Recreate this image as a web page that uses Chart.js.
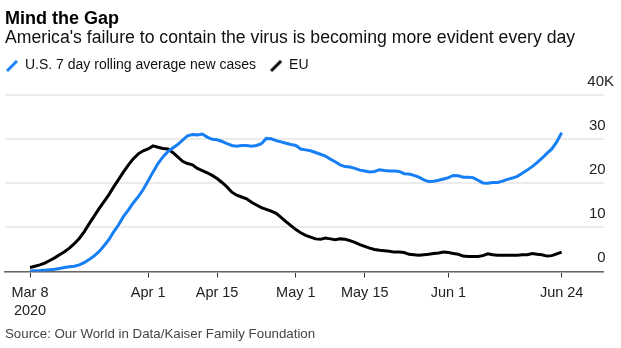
<!DOCTYPE html>
<html>
<head>
<meta charset="utf-8">
<script src="https://cdn.jsdelivr.net/npm/chart.js@4.4.1/dist/chart.umd.min.js"></script>
<style>
html,body{margin:0;padding:0;background:#fff;}
#wrap{position:relative;width:621px;height:348px;overflow:hidden;font-family:"Liberation Sans",Arial,sans-serif;}
#box{position:absolute;left:0;top:0;width:621px;height:348px;}
.t{position:absolute;left:5px;white-space:nowrap;}
#title{top:8.8px;font-weight:bold;font-size:18px;line-height:18px;color:#000;}
#sub{top:29.4px;font-size:17.65px;line-height:17.65px;color:#111;}
#src{top:327px;font-size:13.3px;line-height:13.3px;color:#444;}
</style>
</head>
<body>
<div id="wrap">
  <div id="box"><canvas id="c"></canvas></div>
  <div class="t" id="title">Mind the Gap</div>
  <div class="t" id="sub">America's failure to contain the virus is becoming more evident every day</div>
  <div class="t" id="src">Source: Our World in Data/Kaiser Family Foundation</div>
</div>
<script>
// ---- data (thousands of new cases, daily from Mar 8 2020 to Jun 24 2020) ----
const seriesNames = ['U.S. 7 day rolling average new cases', 'EU'];
const usCases = [
  0.1, 0.15, 0.2, 0.3, 0.4, 0.5, 0.7, 0.9, 1.1, 1.2,
  1.5, 2.0, 2.7, 3.5, 4.5, 5.8, 7.2, 9.0, 10.6, 12.5,
  14.0, 15.6, 17.0, 18.6, 20.6, 22.6, 24.5, 26.0, 27.2, 28.0,
  28.8, 29.8, 30.8, 31.1, 31.0, 31.2, 30.5, 30.0, 29.9, 29.5,
  29.0, 28.6, 28.4, 28.6, 28.6, 28.4, 28.6, 29.0, 30.2, 30.1,
  29.7, 29.4, 29.1, 28.8, 28.6, 27.8, 27.6, 27.4, 27.0, 26.6,
  26.2, 25.5, 24.9, 24.2, 23.8, 23.7, 23.4, 23.0, 22.8, 22.6,
  22.7, 23.1, 22.9, 22.8, 22.8, 22.7, 22.2, 22.1, 21.8, 21.4,
  20.8, 20.4, 20.5, 20.7, 21.0, 21.3, 21.8, 21.7, 21.4, 21.4,
  21.3, 20.7, 20.1, 20.0, 20.2, 20.2, 20.5, 20.9, 21.2, 21.6,
  22.3, 23.0, 23.8, 24.7, 25.7, 26.8, 27.8, 29.4, 31.5
];
const euCases = [
  0.9, 1.2, 1.5, 1.9, 2.5, 3.1, 3.8, 4.5, 5.3, 6.3,
  7.5, 9.0, 10.8, 12.5, 14.2, 15.8, 17.4, 19.2, 20.9, 22.6,
  24.2, 25.6, 26.7, 27.4, 27.8, 28.5, 28.2, 27.9, 27.8, 27.0,
  26.0, 25.0, 24.5, 24.2, 23.4, 22.9, 22.4, 21.8, 21.1, 20.2,
  19.2, 18.0, 17.3, 16.9, 16.5, 15.7, 15.1, 14.5, 14.1, 13.7,
  13.2, 12.3, 11.3, 10.4, 9.5, 8.8, 8.2, 7.8, 7.4, 7.3,
  7.6, 7.4, 7.2, 7.4, 7.3, 7.0, 6.6, 6.1, 5.7, 5.3,
  5.0, 4.8, 4.7, 4.6, 4.4, 4.4, 4.3, 3.9, 3.8, 3.7,
  3.8, 3.9, 4.1, 4.2, 4.4, 4.3, 4.1, 3.9, 3.5, 3.4,
  3.4, 3.4, 3.6, 4.0, 3.8, 3.7, 3.7, 3.7, 3.7, 3.7,
  3.8, 3.8, 4.1, 3.9, 3.8, 3.5, 3.6, 4.0, 4.4
];
// categories: day offsets from Mar 8, 2020
const days = usCases.map((_, i) => i);
// x tick positions (days from Mar 8) and labels
const tickDays = [0, 24, 38, 54, 68, 85, 108];
const tickLabels = [['Mar 8', '2020'], 'Apr 1', 'Apr 15', 'May 1', 'May 15', 'Jun 1', 'Jun 24'];
// y ticks
const yTicks = [0, 10, 20, 30, 40];
const yTickLabels = ['0  ', '10  ', '20  ', '30  ', '40K'];

const FONT = '"Liberation Sans", Arial, sans-serif';
const colors = ['#177ff5', '#000000'];

function slashIcon(color) {
  const c = document.createElement('canvas');
  c.width = 14; c.height = 14;
  const g = c.getContext('2d');
  g.strokeStyle = color; g.lineWidth = 3;
  g.beginPath(); g.moveTo(2, 12.5); g.lineTo(12, 2.5); g.stroke();
  return c;
}
const icons = colors.map(slashIcon);

Chart.defaults.font.family = FONT;

new Chart(document.getElementById('c'), {
  type: 'line',
  data: {
    datasets: [
      { label: seriesNames[0], data: days.map(d => ({ x: d, y: usCases[d] })), borderColor: colors[0], backgroundColor: colors[0],
        borderWidth: 3, pointRadius: 0, tension: 0, xAxisID: 'x', yAxisID: 'y' },
      { label: seriesNames[1], data: days.map(d => ({ x: d, y: euCases[d] })), borderColor: colors[1], backgroundColor: colors[1],
        borderWidth: 3, pointRadius: 0, tension: 0, xAxisID: 'x', yAxisID: 'y' }
    ]
  },
  options: {
    responsive: true,
    maintainAspectRatio: false,
    animation: false,
    layout: { padding: { left: -8, right: 17.5, top: 44.4, bottom: 0 } },
    plugins: {
      tooltip: { enabled: false },
      title: { display: false },
      legend: {
        display: true,
        position: 'top',
        align: 'start',
        labels: {
          usePointStyle: true,
          boxWidth: 12, boxHeight: 12,
          padding: 14,
          color: '#111',
          font: { size: 14, family: FONT },
          generateLabels(chart) {
            const items = Chart.defaults.plugins.legend.labels.generateLabels(chart);
            items.forEach((it, i) => { it.pointStyle = icons[i]; it.lineWidth = 0; });
            return items;
          }
        }
      }
    },
    scales: {
      x: {
        type: 'linear',
        position: 'bottom',
        min: -5.08, max: 116.5,
        afterBuildTicks(s) { s.ticks = tickDays.map(v => ({ value: v })); },
        afterFit(s) { s.height = 76.5; },
        grid: { drawOnChartArea: false, drawTicks: true, tickLength: 6, tickWidth: 1, tickColor: '#333' },
        border: { display: true, color: '#666', width: 1.5 },
        ticks: {
          autoSkip: false, maxRotation: 0, padding: 6, color: '#222',
          font: { size: 14.5, lineHeight: 1.27 },
          callback: (v, i) => tickLabels[i]
        }
      },
      y: {
        position: 'right',
        min: 0, max: 40,
        afterBuildTicks(s) { s.ticks = yTicks.map(v => ({ value: v })); },
        afterFit(s) { s.width = 0; },
        grid: { color: '#ececec', lineWidth: 2, drawTicks: false },
        border: { display: false },
        ticks: {
          mirror: true, padding: 10.5, labelOffset: -13.6, color: '#222',
          font: { size: 15 },
          callback: (v, i) => yTickLabels[i]
        }
      },
      padL: {
        type: 'linear', position: 'left', display: true,
        grid: { display: false }, border: { display: false }, ticks: { display: false },
        afterFit(s) { s.width = 13; }
      },
      padT: {
        type: 'linear', position: 'top', display: true,
        grid: { display: false }, border: { display: false }, ticks: { display: false },
        afterFit(s) { s.height = 12.8; }
      }
    }
  }
});
</script>
</body>
</html>
